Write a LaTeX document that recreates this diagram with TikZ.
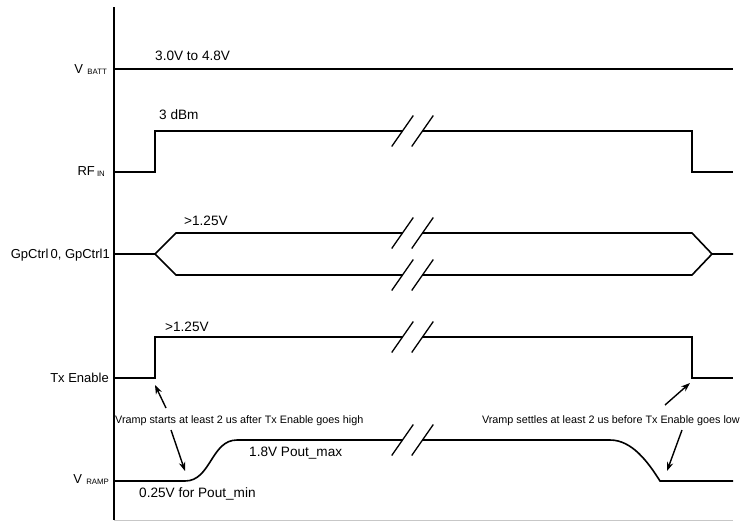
\documentclass[tikz,border=0pt]{standalone}
\usepackage{fontspec}
\setmainfont{Liberation Sans}
\usetikzlibrary{arrows.meta}
\begin{document}
\begin{tikzpicture}[x=1pt,y=-1pt,
  sig/.style={line width=1.6pt, line join=miter},
  brk/.style={line width=1.3pt},
  lbl/.style={font=\fontsize{13}{15}\selectfont, inner sep=0pt},
  val/.style={font=\fontsize{13.6}{15}\selectfont, inner sep=0pt},
  ann/.style={font=\fontsize{10.8}{12}\selectfont, inner sep=0pt},
  ptr/.style={line width=1.4pt, -{Stealth[length=9pt,width=6.5pt]}},
  breakmark/.pic={
    \draw[brk] (-20.8,15.5) -- (0.8,-15.5);
    \draw[brk] (-0.8,15.5) -- (20.8,-15.5);
  }]
\useasboundingbox (0,0) rectangle (741,522);
\newcommand\subtxt[1]{\raisebox{-1.5pt}{\fontsize{7.8}{9}\selectfont #1}}

% axes
\draw[sig] (114,7) -- (114,520);
\draw[line width=1pt, black!22] (114,520) -- (733,520);

% row labels
\node[lbl, anchor=base east] (lvbatt) at (107,73) {V\,\,\subtxt{BATT}};
\node[lbl, anchor=base east] (lrfin) at (105,175) {RF\,\subtxt{IN}};
\node[lbl, anchor=base east] (lgp) at (110,258) {GpCtrl\,0, GpCtrl1};
\node[lbl, anchor=base east] (ltx) at (109,382.5) {Tx Enable};
\node[lbl, anchor=base east] (lvramp) at (109,483) {V\,\,\subtxt{RAMP}};

% VBATT
\draw[sig] (114,69) -- (733,69);
\node[val, anchor=base west] (tvb) at (155,60.7) {3.0V to 4.8V};

% RF IN
\draw[sig] (114,172) -- (155,172) -- (155,131) -- (402,131);
\draw[sig] (422,131) -- (692,131) -- (692,172) -- (733,172);
\pic at (412.5,131) {breakmark};
\node[val, anchor=base west] (trf) at (159,119) {3 dBm};

% GpCtrl
\draw[sig] (114,254) -- (155,254) -- (176,233) -- (402,233);
\draw[sig] (155,254) -- (176,275) -- (402,275);
\draw[sig] (422,233) -- (692,233) -- (712,254) -- (733,254);
\draw[sig] (422,275) -- (692,275) -- (712,254);
\pic at (412.5,233) {breakmark};
\pic at (412.5,275) {breakmark};
\node[val, anchor=base west] (tgp) at (184,225) {>1.25V};

% Tx Enable
\draw[sig] (114,378) -- (155,378) -- (155,337) -- (402,337);
\draw[sig] (422,337) -- (692,337) -- (692,378) -- (733,378);
\pic at (412.5,337) {breakmark};
\node[val, anchor=base west] (ttx) at (165,331) {>1.25V};

% VRAMP
\draw[sig] (114,481) -- (185,481) .. controls (211,481) and (211,440) .. (237,440) -- (402,440);
\draw[sig] (422,440) -- (610,440) .. controls (632,440) and (648,462) .. (660,481) -- (733,481);
\pic at (412.5,440) {breakmark};
\node[val, anchor=base west] (tmax) at (249,456) {1.8V Pout\_max};
\node[val, anchor=base west] (tmin) at (139,497) {0.25V for Pout\_min};

% annotations
\node[ann, anchor=base west] (ann1) at (115,423) {Vramp starts at least 2 us after Tx Enable goes high};
\node[ann, anchor=base east] (ann2) at (740,423) {Vramp settles at least 2 us before Tx Enable goes low};

\coordinate (a1s) at (166,408);
\coordinate (a1e) at (155,385);
\coordinate (a2s) at (171,430);
\coordinate (a2e) at (185,471);
\coordinate (a3s) at (665,405);
\coordinate (a3e) at (690,383);
\coordinate (a4s) at (682,430);
\coordinate (a4e) at (667,471);
\draw[ptr] (a1s) -- (a1e);
\draw[ptr] (a2s) -- (a2e);
\draw[ptr] (a3s) -- (a3e);
\draw[ptr] (a4s) -- (a4e);
\end{tikzpicture}
\end{document}
